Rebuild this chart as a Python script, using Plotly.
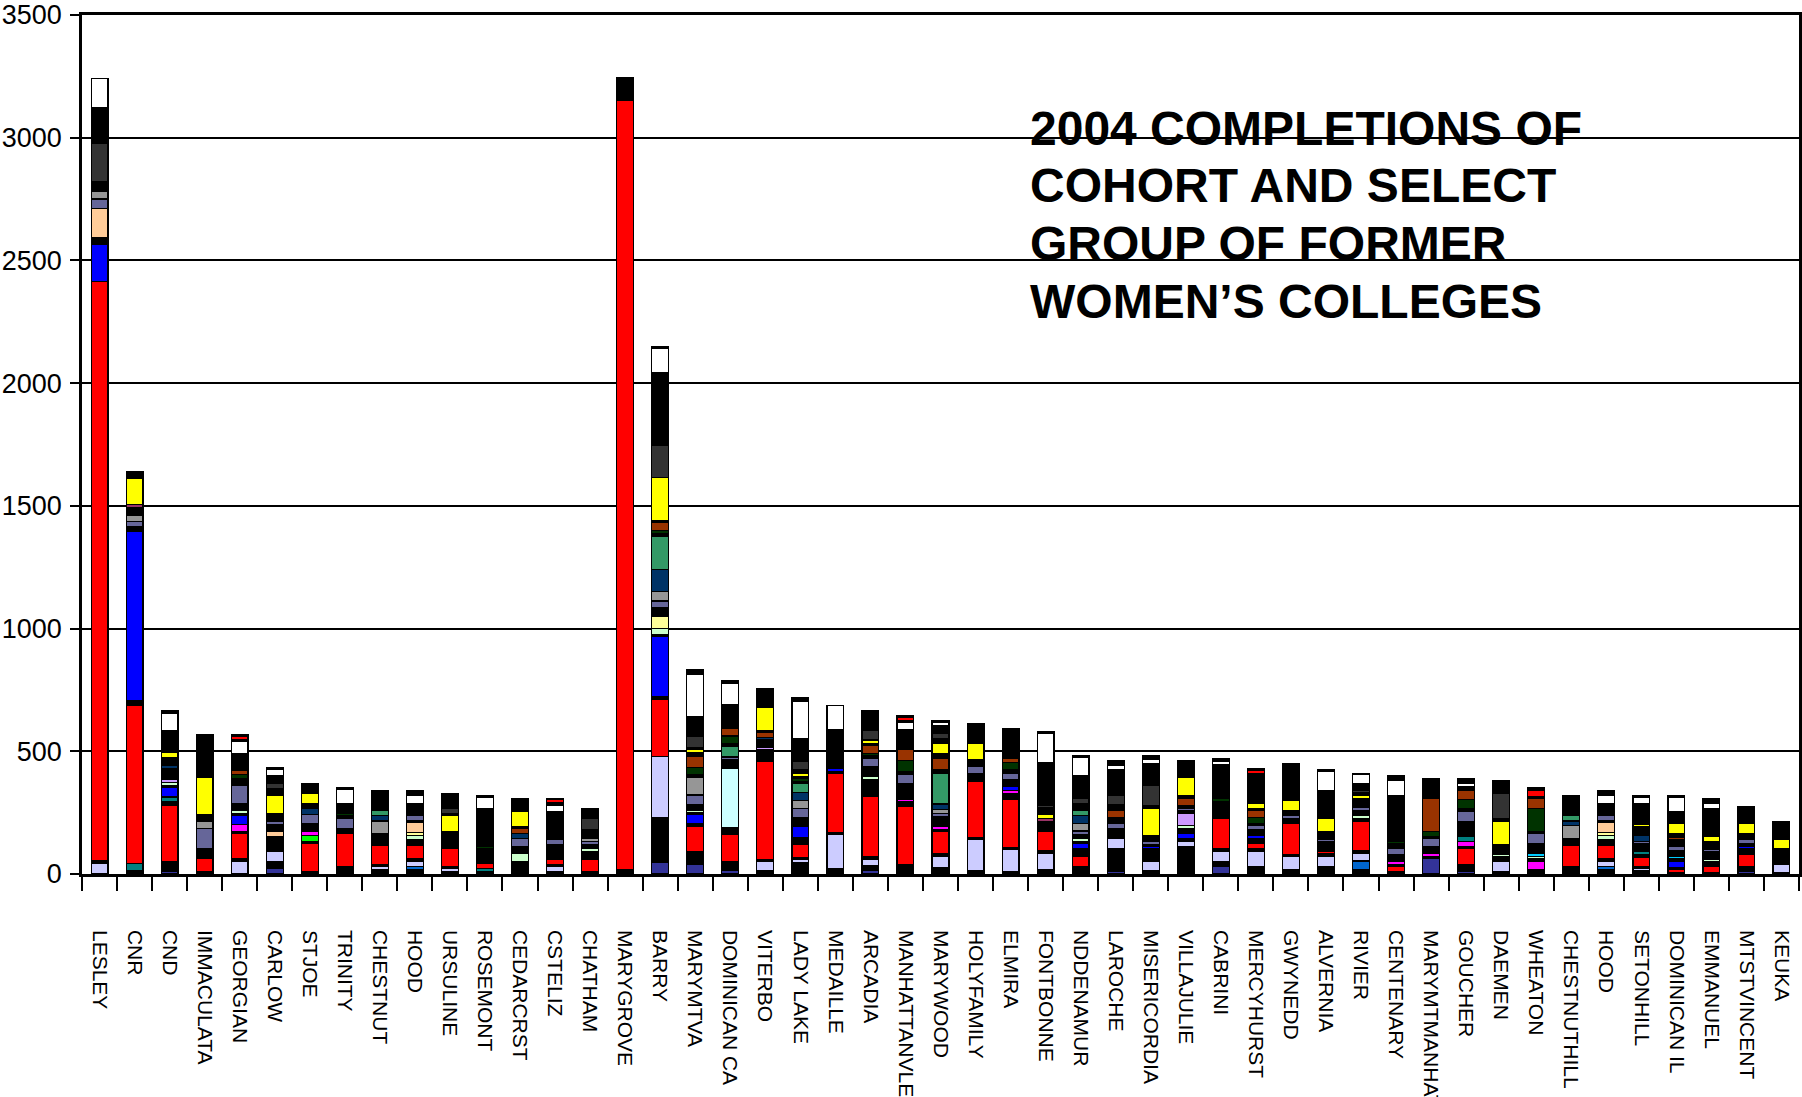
import plotly.graph_objects as go

COLLEGES = [
    "LESLEY", "CNR", "CND", "IMMACULATA", "GEORGIAN", "CARLOW", "STJOE", "TRINITY",
    "CHESTNUT", "HOOD", "URSULINE", "ROSEMONT", "CEDARCRST", "CSTELIZ", "CHATHAM",
    "MARYGROVE", "BARRY", "MARYMTVA", "DOMINICAN CA", "VITERBO", "LADY LAKE",
    "MEDAILLE", "ARCADIA", "MANHATTANVLE", "MARYWOOD", "HOLYFAMILY", "ELMIRA",
    "FONTBONNE", "NDDENAMUR", "LAROCHE", "MISERICORDIA", "VILLAJULIE", "CABRINI",
    "MERCYHURST", "GWYNEDD", "ALVERNIA", "RIVIER", "CENTENARY", "MARYMTMANHAT",
    "GOUCHER", "DAEMEN", "WHEATON", "CHESTNUTHILL", "HOOD", "SETONHILL",
    "DOMINICAN IL", "EMMANUEL", "MTSTVINCENT", "KEUKA",
]

# stacked series values (bottom -> top), one value per college
IND = [0,0,12,0,0,23,0,0,0,0, 0,0,0,0,0,0,48,40,14,0, 0,0,14,0,0,0,0,0,0,12,
       0,0,30,0,0,0,0,0,64,12, 0,0,0,0,0,0,0,12,0]
BK0 = [0,15,38,10,0,27,10,30,16,16, 10,10,50,10,10,16,180,51,38,14, 46,20,21,37,26,14,10,16,30,90,
       12,111,20,30,16,30,16,10,7,25, 10,16,30,16,12,7,7,18,7]
SKY = [0,0,0,0,0,0,0,0,0,14, 0,0,0,0,0,0,0,0,0,0, 0,0,0,0,0,0,0,0,0,0,
       0,0,0,0,0,0,37,0,0,0, 0,0,0,14,0,0,0,0,0]
LAV = [45,0,0,0,53,44,0,0,14,20, 13,0,0,20,0,0,250,0,0,36, 14,140,25,0,45,127,90,68,0,43,
       38,23,44,64,55,41,31,0,0,0, 43,0,0,20,11,0,0,0,32]
BK1 = [8,0,0,0,8,58,0,0,9,14, 7,0,0,9,0,0,0,0,0,7, 8,8,11,0,11,7,9,10,0,41,
       52,11,8,8,9,13,10,0,0,0, 18,0,0,14,7,0,0,0,66]
TEAL1 = [0,28,0,0,0,0,0,0,0,0, 0,14,0,0,0,0,0,0,0,0, 0,0,0,0,0,0,0,0,0,0,
         0,0,0,0,0,0,0,0,0,0, 0,0,0,0,0,0,0,0,0]
RED = [2362,642,231,54,105,0,115,136,76,54, 75,19,0,22,51,3138,234,101,108,403,
       53,242,247,237,91,228,195,81,41,0, 0,0,125,23,127,10,122,20,0,68,
       0,0,85,54,37,13,23,50,0]
BK2 = [0,20,15,38,6,0,7,17,51,24, 68,62,0,60,30,0,10,15,30,45, 28,7,68,21,9,34,22,38,31,0,
       0,0,68,18,20,38,11,9,0,6, 0,0,28,24,13,6,20,22,0]
GRN = [0,0,0,0,0,0,24,0,0,0, 0,0,0,0,0,0,0,0,0,0, 0,0,0,0,0,0,0,0,0,0,
       0,0,0,0,0,0,0,0,0,0, 0,0,0,0,0,0,0,0,0]
MAG = [0,0,0,0,30,0,19,0,0,0, 0,0,0,0,0,0,0,0,0,0, 0,0,0,9,11,0,14,0,0,0,
       0,0,0,0,0,0,0,11,13,23, 0,37,0,0,0,0,0,0,0]
TEAL2 = [0,0,18,0,0,0,0,0,0,0, 0,0,0,0,0,0,0,0,0,0, 0,0,0,0,0,0,0,0,0,0,
         0,0,0,0,0,0,0,0,0,21, 0,0,0,0,14,0,0,0,0]
BLU = [150,690,38,0,36,0,0,0,0,0, 0,0,0,0,0,0,246,36,0,0, 44,14,0,0,0,0,18,0,23,0,
       9,21,0,13,0,0,0,0,0,0, 0,0,0,0,0,24,0,9,0]
BK3 = [30,20,8,0,9,0,0,0,0,0, 0,0,0,0,0,0,9,7,0,0, 38,0,0,0,0,0,28,0,7,0,
       10,17,0,23,0,0,0,0,0,58, 0,8,0,0,31,11,0,14,0]
LGR = [0,0,12,0,14,0,0,0,0,14, 0,0,34,0,14,0,24,10,0,0, 0,0,13,0,0,0,0,0,13,0,
       0,14,0,0,0,0,13,0,0,0, 9,10,0,14,0,0,11,0,0]
CYAN = [0,0,0,0,0,0,0,0,0,0, 0,0,0,0,0,0,0,0,0,0, 0,0,0,0,0,0,0,0,0,0,
        0,0,0,0,0,0,0,0,0,0, 0,13,0,0,0,10,0,0,0]
LCY = [0,0,0,0,0,0,0,0,0,0, 0,0,0,0,0,0,0,0,240,0, 0,0,0,0,0,0,0,0,0,0,
       0,0,0,0,0,0,0,0,0,0, 0,0,0,0,0,0,0,0,0]
LYL = [0,0,0,0,0,0,0,0,0,14, 0,0,0,0,0,0,48,0,0,0, 0,0,0,0,0,0,0,0,0,0,
       0,0,0,0,0,0,0,0,0,0, 0,0,0,14,0,0,0,0,0]
PCH = [115,0,0,0,0,21,0,0,0,41, 0,0,0,0,0,0,0,0,0,0, 0,0,0,0,0,0,0,0,0,0,
       0,0,0,0,0,0,0,0,0,0, 0,0,0,41,0,0,0,0,0]
PNK = [0,0,13,0,0,0,0,0,0,0, 0,0,0,0,0,0,0,0,0,11, 0,0,0,0,0,0,0,0,0,0,
       0,50,0,0,0,0,0,0,0,0, 0,0,0,0,0,0,0,0,0]
BK4 = [0,0,46,0,27,29,32,0,0,5, 0,0,27,0,16,0,35,23,35,30, 0,0,38,66,41,0,0,0,17,0,
       0,10,0,0,0,0,17,30,27,0, 41,41,0,5,0,23,30,0,0]
SLT = [40,22,0,84,75,11,35,44,0,22, 0,0,34,22,11,0,28,39,12,0, 37,0,34,34,11,30,24,0,13,21,
       11,11,0,21,13,11,13,25,34,44, 0,41,0,22,9,17,11,18,0]
GRY = [32,24,0,30,0,0,0,0,50,0, 0,0,0,0,12,0,38,72,0,0, 30,0,0,0,19,0,0,0,32,0,
       0,0,0,0,0,0,0,0,0,0, 0,0,54,0,0,0,0,0,0]
NAV = [0,0,13,0,0,0,26,0,24,0, 0,0,21,0,0,0,90,0,0,10, 34,0,0,0,21,0,0,0,33,0,
       0,0,0,0,0,0,0,0,0,0, 0,0,19,0,22,0,0,0,0]
SEA = [0,0,0,0,0,0,0,0,21,0, 0,0,0,0,0,0,137,0,44,0, 38,0,0,0,125,0,0,0,21,0,
       0,0,0,0,0,0,0,0,0,0, 0,0,22,0,0,0,0,0,0]
BK4B = [0,0,0,0,27,0,0,13,0,0, 0,0,0,0,0,0,10,11,11,0, 6,0,10,13,17,0,14,0,27,23,
        0,11,0,7,0,0,0,20,7,11, 0,7,0,0,17,28,0,0,0]
DGR = [0,0,0,0,15,0,0,7,0,0, 0,6,0,0,0,0,13,28,30,0, 14,0,11,45,0,0,30,0,0,0,
       0,0,13,23,0,0,0,9,21,34, 0,95,0,0,0,0,0,0,0]
BRN = [0,0,0,0,19,0,0,0,0,0, 0,0,20,0,0,0,31,48,32,20, 0,0,34,44,45,0,17,0,0,31,
       0,29,0,31,0,0,0,0,135,40, 0,40,0,0,6,9,0,0,0]
BK5 = [40,32,30,27,68,34,20,41,77,50, 0,157,7,111,35,0,8,15,0,8, 7,0,7,81,20,27,123,0,0,20,
       24,11,136,7,17,30,38,0,82,14, 0,7,81,50,14,15,30,23,0]
MRN = [0,13,0,0,0,0,0,0,0,0, 0,0,0,0,0,0,0,0,0,0, 0,0,0,0,0,0,0,14,0,0,
       0,0,0,0,0,0,0,0,0,0, 0,0,0,0,0,0,0,0,0]
YEL = [0,104,22,150,0,75,41,0,0,0, 65,0,61,0,0,0,177,10,0,94, 13,0,10,0,41,66,0,16,0,0,
       112,74,0,20,41,54,14,0,0,0, 95,0,0,0,9,44,20,41,38]
BK5B = [0,0,0,0,0,27,0,0,0,0, 9,0,0,0,0,0,0,11,0,0, 14,0,6,0,20,0,0,27,0,0,
        11,0,0,0,0,0,11,0,0,0, 8,0,0,0,0,0,0,13,0]
DGY = [156,0,0,0,0,21,0,0,0,0, 21,0,0,0,48,0,130,44,0,0, 34,0,38,0,21,0,0,11,20,38,
       81,0,0,0,0,0,9,0,0,0, 105,0,0,0,0,0,0,7,0]
BK6 = [143,30,87,174,0,30,41,0,0,0, 61,0,54,0,38,90,296,79,95,79, 95,156,79,0,29,81,0,173,93,105,
       91,68,0,122,153,111,28,185,0,0, 50,0,0,0,86,47,116,47,70]
WHT = [119,0,70,0,47,28,0,58,0,34, 0,43,0,27,0,0,101,174,88,0, 150,98,0,30,14,0,0,119,73,18,
       14,0,14,0,0,79,34,64,0,14, 0,0,0,34,23,57,20,0,0]
BK7 = [0,0,13,0,7,5,0,6,0,16, 0,7,0,11,0,0,7,18,11,0, 16,0,0,7,8,0,0,7,8,19,
       17,0,13,0,0,7,6,18,0,20, 0,0,0,16,8,8,20,0,0]
RED2 = [0,0,0,0,14,0,0,0,0,0, 0,0,0,10,0,0,0,0,0,0, 0,0,0,14,0,0,0,0,0,0,
        0,0,0,14,0,0,0,0,0,0, 0,27,0,0,0,0,0,0,0]
BK8 = [0,0,0,0,6,0,0,0,0,0, 0,0,0,6,0,0,0,0,0,0, 0,0,0,6,0,0,0,0,0,0,
       0,0,0,7,0,0,0,0,0,0, 0,10,0,0,0,0,0,0,0]

Y_TICKS = [0, 500, 1000, 1500, 2000, 2500, 3000, 3500]
TITLE_LINES = ["2004 COMPLETIONS OF", "COHORT AND SELECT", "GROUP OF FORMER", "WOMEN\u2019S COLLEGES"]

SERIES = [
    ("IND", "#333399", IND), ("BK0", "#000000", BK0), ("SKY", "#0066CC", SKY),
    ("LAV", "#CCCCFF", LAV), ("BK1", "#000000", BK1), ("TEAL1", "#008080", TEAL1),
    ("RED", "#FF0000", RED), ("BK2", "#000000", BK2), ("GRN", "#00FF00", GRN),
    ("MAG", "#FF00FF", MAG), ("TEAL2", "#008080", TEAL2), ("BLU", "#0000FF", BLU),
    ("BK3", "#000000", BK3), ("LGR", "#CCFFCC", LGR), ("CYAN", "#00CCFF", CYAN),
    ("LCY", "#CCFFFF", LCY), ("LYL", "#FFFF99", LYL), ("PCH", "#FFCC99", PCH),
    ("PNK", "#CC99FF", PNK), ("BK4", "#000000", BK4), ("SLT", "#666699", SLT),
    ("GRY", "#969696", GRY), ("NAV", "#003366", NAV), ("SEA", "#339966", SEA),
    ("BK4B", "#000000", BK4B), ("DGR", "#003300", DGR), ("BRN", "#993300", BRN),
    ("BK5", "#000000", BK5), ("MRN", "#993366", MRN), ("YEL", "#FFFF00", YEL),
    ("BK5B", "#000000", BK5B), ("DGY", "#333333", DGY), ("BK6", "#000000", BK6),
    ("WHT", "#FFFFFF", WHT), ("BK7", "#000000", BK7), ("RED2", "#FF0000", RED2),
    ("BK8", "#000000", BK8),
]

# unique category keys (second HOOD gets a trailing space)
seen = {}
x_keys = []
for name in COLLEGES:
    k = seen.get(name, 0)
    x_keys.append(name + " " * k)
    seen[name] = k + 1

fig = go.Figure()
for name, color, vals in SERIES:
    fig.add_trace(go.Bar(
        x=x_keys,
        y=[v if v else None for v in vals],
        name=name,
        marker=dict(color=color, line=dict(color="#000000", width=1.2)),
        showlegend=False,
    ))

fig.update_layout(
    barmode="stack",
    bargap=0.52,
    width=1802, height=1097,
    margin=dict(l=82, r=3, t=15, b=223, autoexpand=False),
    paper_bgcolor="white", plot_bgcolor="white",
    font=dict(family="Liberation Sans", color="black"),
)
fig.update_xaxes(
    type="category", tickson="boundaries", ticks="outside", ticklen=14, tickwidth=2,
    tickcolor="black", showline=True, linecolor="black", linewidth=2.5, mirror=True,
    showgrid=False, tickangle=90, tickfont=dict(size=21, family="Liberation Sans"),
    ticklabelstandoff=49, automargin=False,
)
fig.update_yaxes(
    range=[0, 3500], tickvals=Y_TICKS, tickformat="d", showgrid=True, gridcolor="black",
    gridwidth=2, showline=True, linecolor="black", linewidth=2.5, mirror=True,
    ticks="outside", ticklen=9, tickwidth=2, tickcolor="black", zeroline=False,
    tickfont=dict(size=27, family="Liberation Sans"), ticklabelstandoff=3,
    automargin=False,
)

title_y = [0.8682, 0.8010, 0.7343, 0.6668]
for line, yy in zip(TITLE_LINES, title_y):
    fig.add_annotation(
        text="<b>" + line + "</b>", xref="paper", yref="paper", x=0.551, y=yy,
        xanchor="left", yanchor="middle", showarrow=False,
        font=dict(size=48, family="Liberation Sans", color="black"),
    )

# remove the page's default body margin so the figure fills the window exactly
fig.write_html(
    "out.html",
    config={"displayModeBar": False},
    post_script="document.body.style.margin='0';document.body.style.overflow='hidden';",
)
